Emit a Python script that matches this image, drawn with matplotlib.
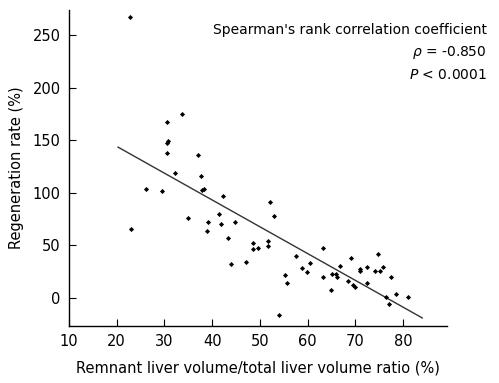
import numpy as np
import matplotlib.pyplot as plt

# remnant liver volume / total liver volume ratio (%)
rlv_ratio = [22.7, 33.7, 30.5, 30.5, 30.8, 30.5, 37.0, 32.2, 37.6, 26.2,
             29.6, 37.9, 38.4, 42.3, 52.2, 52.9, 23.1, 34.9, 41.5, 39.1,
             41.8, 44.8, 39.0, 43.3, 48.6, 48.6, 49.6, 51.6, 51.6, 44.0,
             47.1, 54.0, 55.3, 55.6, 57.6, 58.8, 59.8, 60.5, 63.3, 63.3,
             64.8, 65.0, 66.0, 66.2, 66.8, 68.5, 69.0, 69.6, 70.0, 70.9,
             71.0, 72.5, 72.5, 74.2, 75.1, 74.7, 75.7, 77.4, 76.5, 77.1,
             78.4, 81.0]
# regeneration rate (%)
regen_rate = [267, 175, 167, 147.6, 149, 137.5, 136, 118.5, 115.7, 103.6,
              101.4, 102.7, 103.6, 97.3, 91.3, 78.2, 65.3, 76, 79.5, 72.2,
              70.3, 72.2, 63.7, 57, 52, 46.9, 47.8, 54.5, 49.7, 32.3,
              34.2, -16.5, 21.6, 14.6, 39.9, 28.8, 24.4, 33, 47.8, 20.3,
              7.6, 22.8, 22.8, 20, 30.1, 15.8, 38, 12.4, 10.5, 27.6,
              25.7, 29.8, 14, 26, 26, 42.1, 29.5, 19.7, 1.3, -5.7,
              3.8, 1.3]

# regression line end points
fit_x = [20.3, 84.0]
fit_y = [143.5, -19.0]

xticks = [10, 20, 30, 40, 50, 60, 70, 80]
yticks = [0, 50, 100, 150, 200, 250]

plt.rcParams['font.family'] = ['DejaVu Sans']

fig = plt.figure(figsize=(4.99, 3.83), dpi=100)
ax = fig.add_axes([0.138, 0.149, 0.758, 0.825])

ax.plot(fit_x, fit_y, color='#333333', lw=1.0)
ax.plot(rlv_ratio, regen_rate, 'D', color='black', ms=2.6, mew=0)

ax.set_xlim(10, 89.2)
ax.set_ylim(-26.6, 274)
ax.set_xticks(xticks)
ax.set_yticks(yticks)
ax.tick_params(direction='in', length=5, width=0.8, labelsize=10.5, pad=6)
for s in ['top', 'right']:
    ax.spines[s].set_visible(False)
for s in ['left', 'bottom']:
    ax.spines[s].set_linewidth(1.0)

ax.set_xlabel('Remnant liver volume/total liver volume ratio (%)', fontsize=10.5, labelpad=8)
ax.set_ylabel('Regeneration rate (%)', fontsize=10.5, labelpad=6)

fig.text(0.976, 0.922, "Spearman's rank correlation coefficient", ha='right', va='center', fontsize=10)
fig.text(0.976, 0.864, r"$\rho$ = -0.850", ha='right', va='center', fontsize=10)
fig.text(0.976, 0.804, r"$P$ < 0.0001", ha='right', va='center', fontsize=10)

fig.savefig('out.png', dpi=100)
